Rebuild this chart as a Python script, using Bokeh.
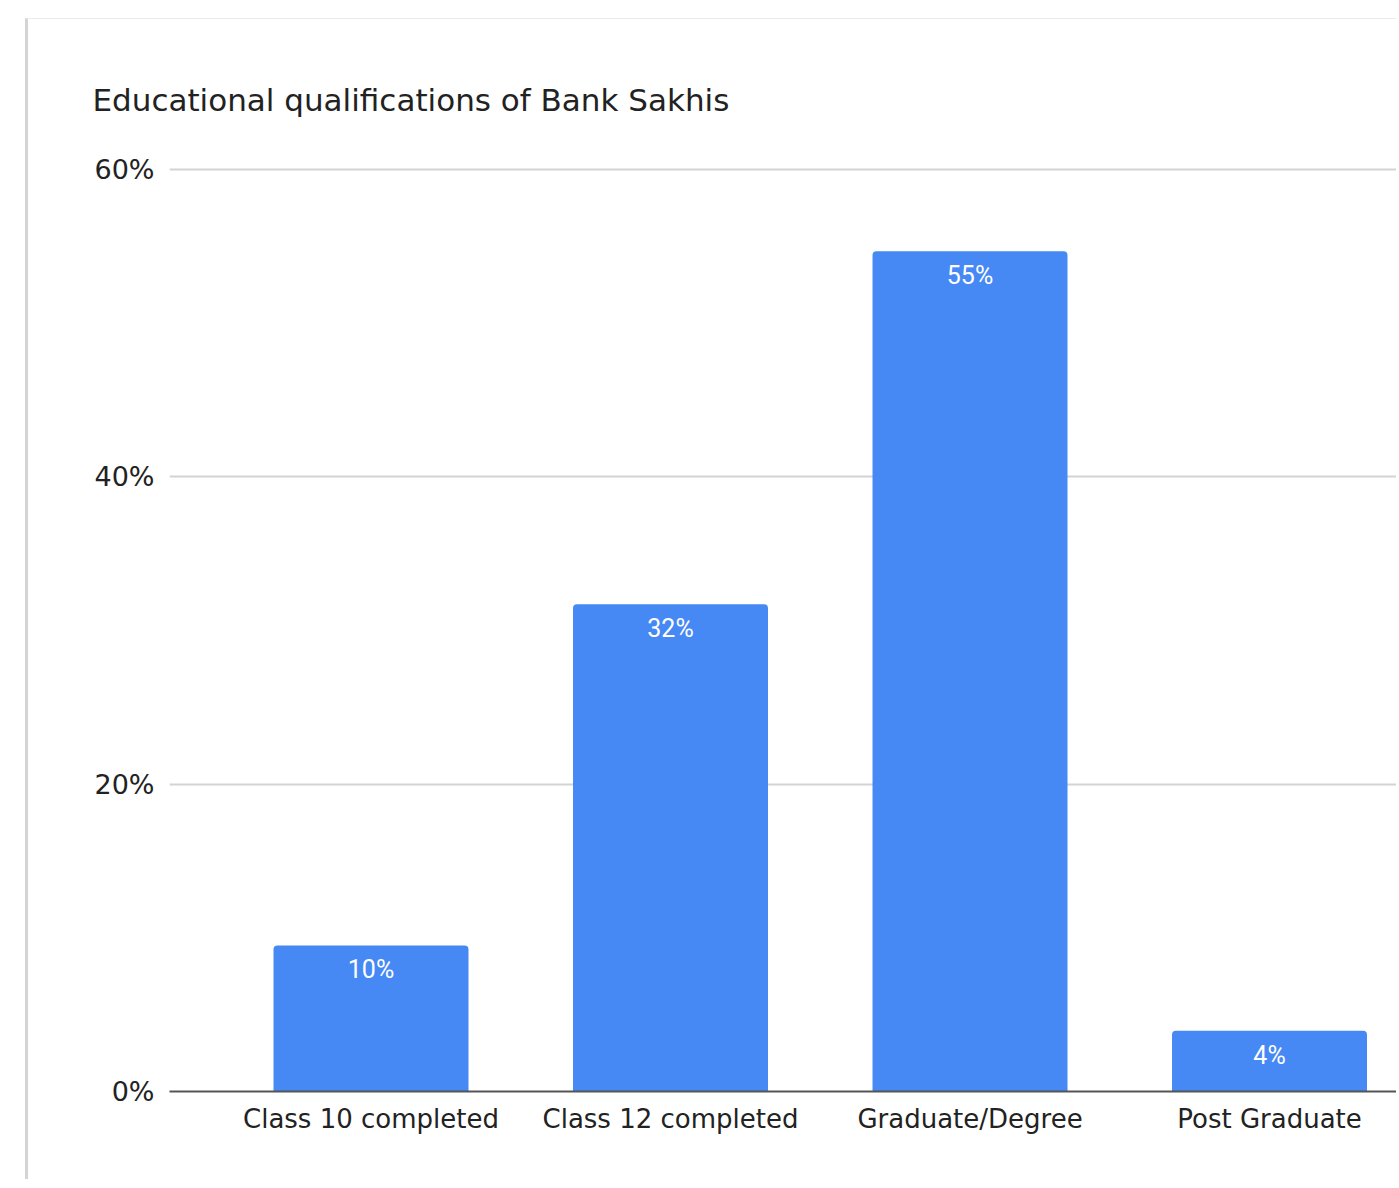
from bokeh.plotting import figure
from bokeh.layouts import row, column
from bokeh.models import Spacer, ColumnDataSource, FixedTicker, PrintfTickFormatter, Range1d
from bokeh.core.properties import value
from bokeh.embed import file_html
from bokeh.resources import INLINE

# Data
categories = ["Class 10 completed", "Class 12 completed", "Graduate/Degree", "Post Graduate"]
shares = [9.5, 31.7, 54.65, 3.95]
share_labels = ["10%", "32%", "55%", "4%"]
y_ticks = [0, 20, 40, 60]

xs = list(range(len(categories)))
src = ColumnDataSource(dict(x=xs, top=shares, label=share_labels, cat=categories))

p = figure(width=1371, height=1161, output_backend="svg", toolbar_location=None,
           x_range=Range1d(-0.6728, 3.434), y_range=Range1d(0, 60.1),
           min_border_left=141, min_border_right=0, min_border_top=148, min_border_bottom=89)
p.styles = {"border-left": "3px solid #d4d4d4", "border-top": "1px solid #ececec"}
p.outline_line_color = None
p.background_fill_color = "white"
p.border_fill_color = "white"

p.title.text = "Educational qualifications of Bank Sakhis"
p.title.text_font = "DejaVu Sans"
p.title.text_font_size = "31px"
p.title.text_font_style = "normal"
p.title.text_color = "#222222"
p.title.align = "left"
p.title.offset = -77
p.title.standoff = 99

p.vbar(x="x", top="top", bottom=0, width=0.651, source=src, fill_color="#4688f4",
       line_color=None, border_radius=(4, 4, 0, 0))
p.text(x="x", y="top", text="label", source=src, text_align="center", text_baseline="top",
       y_offset=10, text_color="white", text_font=value("Roboto"), text_font_size="25px",
       text_font_style="normal")

# x axis
p.xaxis.ticker = FixedTicker(ticks=xs)
p.xaxis.major_label_overrides = {i: c for i, c in enumerate(categories)}
p.xaxis.major_label_text_font = "DejaVu Sans"
p.xaxis.major_label_text_font_size = "26px"
p.xaxis.major_label_text_color = "#222222"
p.xaxis.major_label_standoff = 6
p.xaxis.major_tick_line_color = None
p.xaxis.minor_tick_line_color = None
p.xaxis.axis_line_color = "#555555"
p.xaxis.axis_line_width = 2

# y axis
p.yaxis.ticker = FixedTicker(ticks=y_ticks)
p.yaxis.formatter = PrintfTickFormatter(format="%d%%")
p.yaxis.major_label_text_font = "DejaVu Sans"
p.yaxis.major_label_text_font_size = "27px"
p.yaxis.major_label_text_color = "#222222"
p.yaxis.major_label_standoff = 9
p.yaxis.major_tick_line_color = None
p.yaxis.minor_tick_line_color = None
p.yaxis.axis_line_color = None

p.xgrid.grid_line_color = None
p.ygrid.grid_line_color = "#d3d3d3"
p.ygrid.grid_line_width = 2

layout = column(Spacer(height=18), row(Spacer(width=25), p))
open("out.html", "w").write(file_html(layout, INLINE))
